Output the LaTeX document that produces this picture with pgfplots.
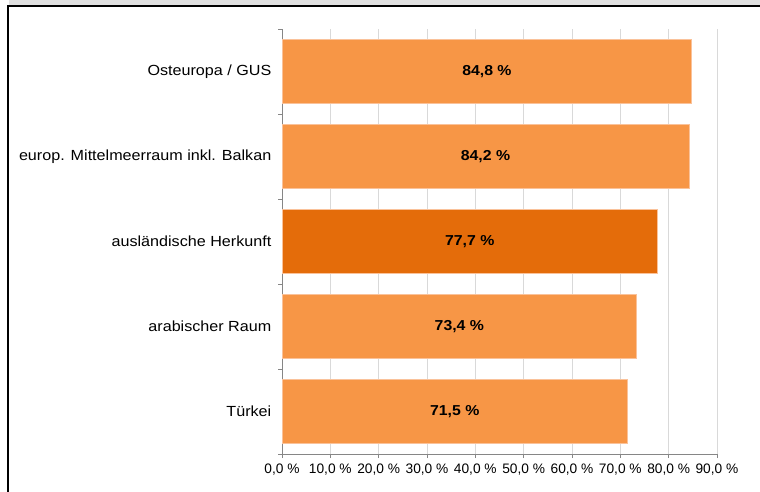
\documentclass[border=0pt]{standalone}
\usepackage{pgfplots}
\pgfplotsset{compat=1.18}
\usepackage{pgfplotstable}
\usepackage{fontspec}
\setmainfont{Liberation Sans}
\newfontfamily\widefont[FakeStretch=1.1]{Liberation Sans}
\definecolor{barlight}{HTML}{F79646}
\definecolor{bardark}{HTML}{E46C0A}
\definecolor{baredge}{HTML}{FAC29A}
\definecolor{gridc}{HTML}{D9D9D9}
\definecolor{axisc}{HTML}{868686}
\definecolor{band}{HTML}{E0E0E0}
\pgfplotstableread{
y v
0 71.5
1 73.4
3 84.2
4 84.8
}\light
\pgfplotstableread{
y v
2 77.7
}\dark
\pgfplotstableread{
y v
0 71.5
1 73.4
2 77.7
3 84.2
4 84.8
}\alldata
\begin{document}
\begin{tikzpicture}
\path[use as bounding box] (0,0) rectangle (570pt,-369pt);
\fill[band] (6.75pt,0) rectangle (570pt,-4pt);
\draw[black,line width=1.5pt] (5.5pt,-4.6pt) -- (570pt,-4.6pt);
\draw[black,line width=1.5pt] (6.2pt,-3.9pt) -- (6.2pt,-369pt);
\begin{axis}[
  at={(211.5pt,-340.5pt)}, anchor=south west,
  scale only axis, width=326.25pt, height=318.75pt,
  xmin=0, xmax=90, ymin=-0.5, ymax=4.5,
  axis lines*=left,
  axis line style={axisc, line width=0.6pt},
  xtick={0,10,...,90},
  ytick={-0.5,0.5,1.5,2.5,3.5,4.5},
  yticklabels={,Türkei,arabischer Raum,ausländische Herkunft,europ. Mittelmeerraum inkl. Balkan,Osteuropa / GUS},
  y tick label style={yshift=-31.875pt, xshift=-1.5pt, anchor=east, font=\widefont\fontsize{11}{12}\selectfont},
  tick align=outside, tick pos=left,
  major tick length=3pt,
  tick style={axisc, line width=0.6pt},
  xmajorgrids, grid style={gridc, line width=0.6pt},
  xticklabel={\pgfmathprintnumber[fixed,fixed zerofill,precision=1,use comma]{\tick}~\%},
  /pgf/number format/assume math mode=true,
  x tick label style={yshift=-1pt, font=\fontsize{10.3}{12}\selectfont},
  tick label style={black},
  xbar, bar width=48pt, bar shift=0pt,
  clip=false,
]
\addplot[fill=barlight, draw=baredge, line width=0.6pt] table[x=v,y=y] {\light};
\addplot[fill=bardark, draw=baredge, line width=0.6pt] table[x=v,y=y] {\dark};
\addplot[xbar=false, only marks, mark=none, point meta=explicit,
  nodes near coords={\pgfmathprintnumber[fixed,fixed zerofill,precision=1,use comma,assume math mode=true]{\pgfplotspointmeta}~\%},
  nodes near coords style={anchor=center, font=\widefont\fontsize{10.8}{12}\selectfont\bfseries, black}]
  table[x expr=\thisrow{v}/2, y=y, meta=v] {\alldata};
\end{axis}
\end{tikzpicture}
\end{document}
